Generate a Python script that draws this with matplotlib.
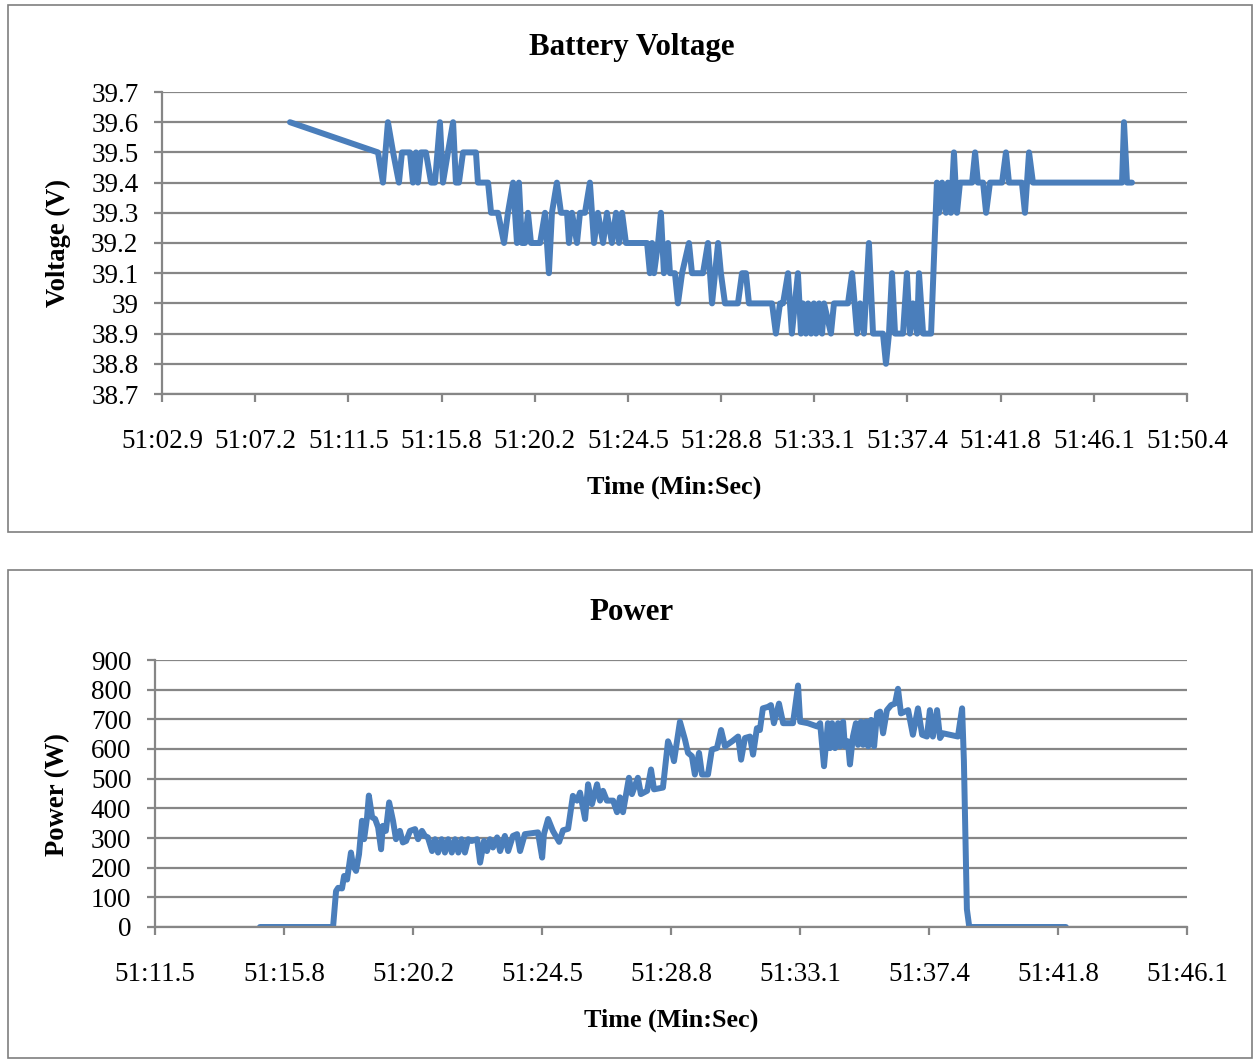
import numpy as np
import matplotlib
matplotlib.use("Agg")
import matplotlib.pyplot as plt
from matplotlib.patches import Rectangle

# time in seconds after 51:00
volt_t = [8.83, 12.91, 13.14, 13.37, 13.61, 13.88, 14.02, 14.39, 14.53, 14.67, 14.76, 14.90,
          15.13, 15.37, 15.55, 15.78, 15.92, 16.15, 16.39, 16.52, 16.66, 16.85, 17.45, 17.54,
          18.01, 18.15, 18.47, 18.75, 18.93, 19.17, 19.35, 19.44, 19.58, 19.72, 19.86, 20.00,
          20.42, 20.65, 20.83, 20.97, 21.20, 21.39, 21.67, 21.76, 21.90, 22.13, 22.27, 22.50,
          22.73, 22.92, 23.10, 23.34, 23.52, 23.75, 23.94, 24.08, 24.22, 24.40, 25.38, 25.51,
          25.61, 25.70, 25.89, 26.02, 26.16, 26.35, 26.44, 26.67, 26.81, 27.00, 27.32, 27.46,
          27.97, 28.20, 28.39, 28.53, 28.67, 28.80, 28.99, 29.59, 29.78, 29.96, 30.10, 31.17,
          31.35, 31.54, 31.68, 31.91, 32.09, 32.23, 32.37, 32.51, 32.60, 32.74, 32.84, 32.98,
          33.11, 33.21, 33.35, 33.49, 33.58, 33.90, 34.04, 34.69, 34.88, 35.11, 35.25, 35.43,
          35.66, 35.85, 36.31, 36.45, 36.59, 36.73, 36.87, 37.24, 37.42, 37.56, 37.70, 37.89,
          37.98, 38.17, 38.54, 38.81, 38.91, 39.05, 39.23, 39.32, 39.46, 39.60, 39.74, 39.88,
          40.44, 40.58, 40.71, 40.95, 41.09, 41.27, 41.83, 42.01, 42.15, 42.75, 42.89, 43.08,
          43.26, 47.39, 47.48, 47.62, 47.85]
volt_v = [39.6, 39.5, 39.4, 39.6, 39.5, 39.4, 39.5, 39.5, 39.4, 39.5, 39.4, 39.5,
          39.5, 39.4, 39.4, 39.6, 39.4, 39.5, 39.6, 39.4, 39.4, 39.5, 39.5, 39.4,
          39.4, 39.3, 39.3, 39.2, 39.3, 39.4, 39.2, 39.4, 39.2, 39.2, 39.3, 39.2,
          39.2, 39.3, 39.1, 39.3, 39.4, 39.3, 39.3, 39.2, 39.3, 39.2, 39.3, 39.3,
          39.4, 39.2, 39.3, 39.2, 39.3, 39.2, 39.3, 39.2, 39.3, 39.2, 39.2, 39.1,
          39.2, 39.1, 39.2, 39.3, 39.1, 39.2, 39.1, 39.1, 39.0, 39.1, 39.2, 39.1,
          39.1, 39.2, 39.0, 39.1, 39.2, 39.1, 39.0, 39.0, 39.1, 39.1, 39.0, 39.0,
          38.9, 39.0, 39.0, 39.1, 38.9, 39.0, 39.1, 38.9, 39.0, 38.9, 39.0, 38.9,
          39.0, 38.9, 39.0, 38.9, 39.0, 38.9, 39.0, 39.0, 39.1, 38.9, 39.0, 38.9,
          39.2, 38.9, 38.9, 38.8, 38.9, 39.1, 38.9, 38.9, 39.1, 38.9, 39.0, 38.9,
          39.1, 38.9, 38.9, 39.4, 39.3, 39.4, 39.3, 39.4, 39.3, 39.5, 39.3, 39.4,
          39.4, 39.5, 39.4, 39.4, 39.3, 39.4, 39.4, 39.5, 39.4, 39.4, 39.3, 39.5,
          39.4, 39.4, 39.6, 39.4, 39.4]

power_t = [15.02, 17.47, 17.57, 17.64, 17.77, 17.84, 17.94, 18.07, 18.14, 18.24, 18.34, 18.44,
           18.51, 18.61, 18.67, 18.78, 18.88, 18.98, 19.08, 19.14, 19.24, 19.35, 19.48, 19.58,
           19.71, 19.81, 19.92, 20.05, 20.22, 20.32, 20.45, 20.55, 20.65, 20.79, 20.89, 20.99,
           21.11, 21.22, 21.33, 21.45, 21.56, 21.67, 21.78, 21.89, 22.00, 22.12, 22.30, 22.40,
           22.53, 22.63, 22.73, 22.83, 22.97, 23.07, 23.23, 23.34, 23.50, 23.64, 23.74, 23.90,
           24.34, 24.48, 24.54, 24.68, 24.84, 25.05, 25.18, 25.35, 25.51, 25.65, 25.75, 25.92,
           26.02, 26.15, 26.32, 26.42, 26.52, 26.65, 26.86, 26.99, 27.09, 27.19, 27.39, 27.49,
           27.69, 27.79, 28.00, 28.13, 28.23, 28.53, 28.70, 28.83, 28.90, 29.10, 29.27, 29.37,
           29.50, 29.60, 29.74, 29.84, 30.04, 30.17, 30.34, 30.48, 30.61, 30.85, 31.05, 31.15,
           31.28, 31.45, 31.55, 31.68, 31.78, 31.88, 32.05, 32.15, 32.25, 32.42, 32.56, 32.89,
           33.06, 33.13, 33.39, 33.70, 33.80, 33.93, 34.06, 34.13, 34.20, 34.30, 34.40, 34.47,
           34.57, 34.63, 34.73, 34.80, 34.90, 35.00, 35.07, 35.17, 35.24, 35.34, 35.41, 35.51,
           35.61, 35.71, 35.81, 35.91, 36.04, 36.18, 36.31, 36.41, 36.51, 36.75, 36.91, 37.08,
           37.22, 37.38, 37.48, 37.58, 37.72, 37.82, 37.92, 38.42, 38.56, 38.62, 38.72, 38.80,
           42.04]
power_w = [0, 0, 121, 132, 130, 172, 160, 251, 206, 189, 245, 358,
           296, 370, 443, 370, 364, 336, 262, 341, 324, 420, 358, 296,
           324, 285, 290, 324, 330, 296, 324, 307, 302, 256, 296, 251,
           296, 251, 296, 251, 296, 251, 296, 251, 296, 290, 296, 217,
           290, 256, 296, 268, 302, 256, 307, 256, 307, 313, 256, 313,
           319, 234, 313, 364, 324, 287, 326, 331, 442, 426, 453, 364,
           481, 414, 481, 426, 459, 426, 426, 387, 437, 387, 503, 448,
           503, 448, 459, 531, 464, 470, 626, 592, 559, 692, 631, 587,
           576, 514, 587, 514, 514, 598, 603, 664, 609, 626, 642, 564,
           637, 642, 581, 670, 664, 737, 742, 748, 687, 753, 687, 687,
           814, 692, 687, 676, 687, 542, 687, 603, 687, 603, 687, 609,
           692, 609, 626, 548, 642, 687, 614, 692, 614, 692, 609, 698,
           609, 720, 726, 653, 731, 748, 753, 803, 720, 731, 648, 737,
           648, 642, 731, 642, 731, 637, 653, 642, 737, 560, 60, 0,
           0]

volt_ticks = ["51:02.9", "51:07.2", "51:11.5", "51:15.8", "51:20.2", "51:24.5",
              "51:28.8", "51:33.1", "51:37.4", "51:41.8", "51:46.1", "51:50.4"]
power_ticks = ["51:11.5", "51:15.8", "51:20.2", "51:24.5", "51:28.8",
               "51:33.1", "51:37.4", "51:41.8", "51:46.1"]
volt_yticks = [38.7, 38.8, 38.9, 39.0, 39.1, 39.2, 39.3, 39.4, 39.5, 39.6, 39.7]
volt_ylabels = ["38.7", "38.8", "38.9", "39", "39.1", "39.2", "39.3", "39.4", "39.5", "39.6", "39.7"]
power_yticks = [0, 100, 200, 300, 400, 500, 600, 700, 800, 900]

plt.rcParams['font.family'] = ['Liberation Serif', 'DejaVu Serif']
W, H = 1253, 1061
fig = plt.figure(figsize=(W / 100, H / 100), dpi=100)

line_col = '#4a7ebb'
grid_col = '#868686'


def style(ax):
    ax.grid(axis='y', color=grid_col, linewidth=1.6)
    ax.set_axisbelow(True)
    for s in ['top', 'right']:
        ax.spines[s].set_visible(False)
    for s in ['left', 'bottom']:
        ax.spines[s].set_color(grid_col)
        ax.spines[s].set_linewidth(1.6)
    ax.tick_params(axis='both', colors=grid_col, width=1.6, length=6,
                   labelcolor='black', labelsize=19.5)
    ax.tick_params(axis='x', pad=19)
    ax.tick_params(axis='y', pad=11)


# frames
fig.patches.append(Rectangle((8 / W, 1 - 532 / H), (W - 9) / W, 527 / H, transform=fig.transFigure,
                             fill=False, edgecolor='#7f7f7f', linewidth=1.2))
fig.patches.append(Rectangle((8 / W, 1 - 1058 / H), (W - 9) / W, 488 / H, transform=fig.transFigure,
                             fill=False, edgecolor='#7f7f7f', linewidth=1.2))

# Battery voltage
ax1 = fig.add_axes([162 / W, 1 - 394 / H, 1025 / W, 302 / H])
ax1.plot(volt_t, volt_v, color=line_col, linewidth=4.3, solid_joinstyle='round', solid_capstyle='round')
xt = np.linspace(2.9, 50.4, len(volt_ticks))
ax1.set_xlim(xt[0], xt[-1])
ax1.set_xticks(xt)
ax1.set_xticklabels(volt_ticks)
ax1.set_ylim(38.7, 39.7)
ax1.set_yticks(volt_yticks)
ax1.set_yticklabels(volt_ylabels)
style(ax1)
fig.text(632 / W, 1 - 47 / H, "Battery Voltage", ha='center', va='center', fontsize=22.3, fontweight='bold')
fig.text(58 / W, 1 - 243 / H, "Voltage (V)", ha='center', va='center', rotation=90, fontsize=19.2, fontweight='bold')
fig.text(674 / W, 1 - 487 / H, "Time (Min:Sec)", ha='center', va='center', fontsize=18.8, fontweight='bold')

# Power
ax2 = fig.add_axes([155 / W, 1 - 927 / H, 1032 / W, 267 / H])
ax2.plot(power_t, power_w, color=line_col, linewidth=4.3, solid_joinstyle='round', solid_capstyle='round')
xt2 = np.linspace(11.5, 46.1, len(power_ticks))
ax2.set_xlim(xt2[0], xt2[-1])
ax2.set_xticks(xt2)
ax2.set_xticklabels(power_ticks)
ax2.set_ylim(0, 900)
ax2.set_yticks(power_yticks)
style(ax2)
fig.text(632 / W, 1 - 613 / H, "Power", ha='center', va='center', fontsize=22.3, fontweight='bold')
fig.text(58 / W, 1 - 795 / H, "Power (W)", ha='center', va='center', rotation=90, fontsize=19.2, fontweight='bold')
fig.text(671 / W, 1 - 1020 / H, "Time (Min:Sec)", ha='center', va='center', fontsize=18.8, fontweight='bold')

fig.savefig("out.png", dpi=100)
